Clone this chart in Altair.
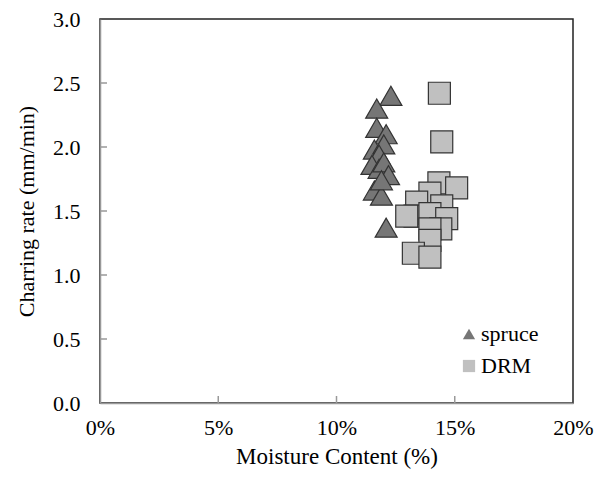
import altair as alt
import pandas as pd

spruce_x = [12.3, 11.7, 11.7, 12.1, 11.6, 12.0, 11.8, 11.5, 11.8, 12.0, 12.2, 11.6, 11.9, 12.1, 11.9]
spruce_y = [2.40, 2.30, 2.15, 2.10, 1.98, 2.02, 1.94, 1.86, 1.83, 1.88, 1.78, 1.66, 1.62, 1.37, 1.74]
drm_x = [14.35, 14.45, 14.33, 15.08, 13.95, 13.39, 14.45, 13.32, 13.95, 14.66, 14.41, 13.95, 13.95, 13.25, 13.95, 12.97]
drm_y = [2.42, 2.04, 1.72, 1.68, 1.64, 1.57, 1.54, 1.46, 1.48, 1.44, 1.36, 1.36, 1.27, 1.17, 1.14, 1.46]

series = ["spruce", "DRM"]
x_ticks = [0.05, 0.10, 0.15]
y_ticks = [0.5, 1.0, 1.5, 2.0, 2.5]

rows = []
for x, y in zip(spruce_x, spruce_y):
    rows.append({"mc": x / 100, "rate": y, "series": "spruce"})
for x, y in zip(drm_x, drm_y):
    rows.append({"mc": x / 100, "rate": y, "series": "DRM"})
df = pd.DataFrame(rows)

font = "Liberation Serif"
xscale = alt.Scale(domain=[0, 0.2], nice=False)
yscale = alt.Scale(domain=[0, 3], nice=False)

points = alt.Chart(df).mark_point(filled=True, size=484, stroke="#333333", strokeWidth=1.2, opacity=1).encode(
    x=alt.X("mc:Q", scale=xscale,
            axis=alt.Axis(title="Moisture Content (%)", format=".0%", values=[0, 0.05, 0.1, 0.15, 0.2],
                          ticks=False, grid=False, domainColor="#999999", domainWidth=1.5, labelFlush=False,
                          labelPadding=14, titlePadding=7, titleFontSize=23)),
    y=alt.Y("rate:Q", scale=yscale,
            axis=alt.Axis(title="Charring rate (mm/min)", format=".1f", values=[0, 0.5, 1, 1.5, 2, 2.5, 3],
                          ticks=False, grid=False, domainColor="#999999", domainWidth=1.5, labelFlush=False,
                          labelPadding=20, titlePadding=14, titleFontSize=22)),
    shape=alt.Shape("series:N", scale=alt.Scale(domain=series, range=["triangle-up", "square"]),
                    legend=alt.Legend(title=None, orient="none", legendX=358, legendY=304, padding=0,
                                      symbolSize=150, symbolStrokeColor="#333333", symbolStrokeWidth=1.2,
                                      rowPadding=10, labelOffset=1)),
    fill=alt.Fill("series:N", scale=alt.Scale(domain=series, range=["#767676", "#c0c0c0"]), legend=None),
)

xt = alt.Chart(pd.DataFrame({"t": x_ticks})).mark_rule(color="#999999", strokeWidth=1.5).encode(
    x=alt.X("t:Q", scale=xscale), y=alt.value(384), y2=alt.value(377))
yt = alt.Chart(pd.DataFrame({"t": y_ticks})).mark_rule(color="#999999", strokeWidth=1.5).encode(
    y=alt.Y("t:Q", scale=yscale), x=alt.value(0), x2=alt.value(7))

chart = alt.layer(xt, yt, points).properties(
    width=473, height=384,
    autosize=alt.AutoSizeParams(type="none"),
    padding={"left": 92, "top": 11, "right": 27, "bottom": 68},
).configure(
    background="white", font=font
).configure_view(
    stroke="#222222", strokeWidth=1.5
).configure_axis(
    labelFont=font, labelFontSize=22, labelColor="#000000",
    titleFont=font, titleFontWeight="normal", titleColor="#000000",
).configure_legend(
    labelFont=font, labelFontSize=22, labelColor="#000000",
)

chart.save("out.html", embed_options={"renderer": "svg", "actions": False})
